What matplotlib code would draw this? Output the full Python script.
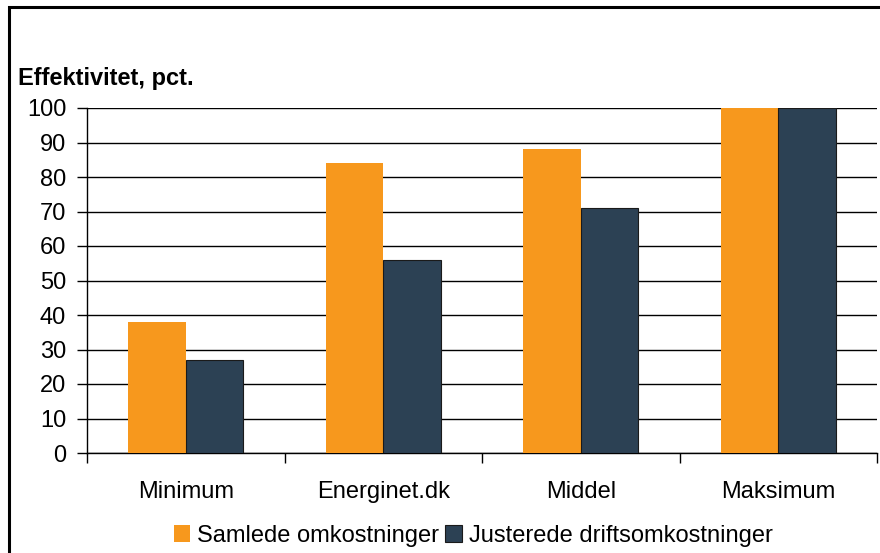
import numpy as np
import matplotlib.pyplot as plt
from matplotlib.patches import Rectangle

plt.rcParams['font.family'] = ['Liberation Sans', 'DejaVu Sans']

categories = ['Minimum', 'Energinet.dk', 'Middel', 'Maksimum']
samlede = [38, 84, 88, 100]
justerede = [27, 56, 71, 100]
series_names = ['Samlede omkostninger', 'Justerede driftsomkostninger']
orange = '#F7981D'
navy = '#2C4154'
fs = 17

fig = plt.figure(figsize=(8.8, 5.53), dpi=100)
ax = fig.add_axes([87/880, 1 - 453/553, 790/880, 345/553])

x = np.arange(len(categories))
w = 0.29
b1 = ax.bar(x - w/2, samlede, w, color=orange, edgecolor='none', label=series_names[0], zorder=3)
b2 = ax.bar(x + w/2, justerede, w, color=navy, edgecolor='#1a1a1a', linewidth=0.8,
            label=series_names[1], zorder=3)

ax.set_xlim(-0.5, 3.5)
ax.set_ylim(0, 100)
ax.set_yticks(range(0, 101, 10))
ax.yaxis.grid(True, color='black', linewidth=1)
ax.set_axisbelow(True)

# category labels sit between the boundary ticks
ax.set_xticks(np.arange(-0.5, 4.0, 1.0))
ax.set_xticklabels([])
ax.set_xticks(x, minor=True)
ax.set_xticklabels(categories, minor=True)
ax.tick_params(axis='x', which='major', length=7, width=1, direction='out')
ax.tick_params(axis='x', which='minor', length=0, pad=20, labelsize=fs)
ax.tick_params(axis='y', length=7, width=1, pad=8, labelsize=fs)

for s in ['top', 'right']:
    ax.spines[s].set_visible(False)
ax.spines['left'].set_linewidth(1)
ax.spines['bottom'].set_linewidth(1)

fig.text(18/880, 1 - 78/553, 'Effektivitet, pct.', fontsize=fs, fontweight='bold',
         ha='left', va='center')

fig.legend(handles=[b1, b2], labels=series_names, loc='center', ncol=2,
           bbox_to_anchor=(473/880, 1 - 536/553), frameon=False, fontsize=fs,
           handlelength=0.7, handleheight=0.7, handletextpad=0.3, columnspacing=0.25)

# outer frame (cut off on the right and bottom)
fig.patches.append(Rectangle((8.5/880, -0.1), 1.0, 1.1 - 7.5/553, transform=fig.transFigure,
                             fill=False, edgecolor='black', linewidth=2.2, clip_on=False))

fig.savefig('out.png', dpi=100)
